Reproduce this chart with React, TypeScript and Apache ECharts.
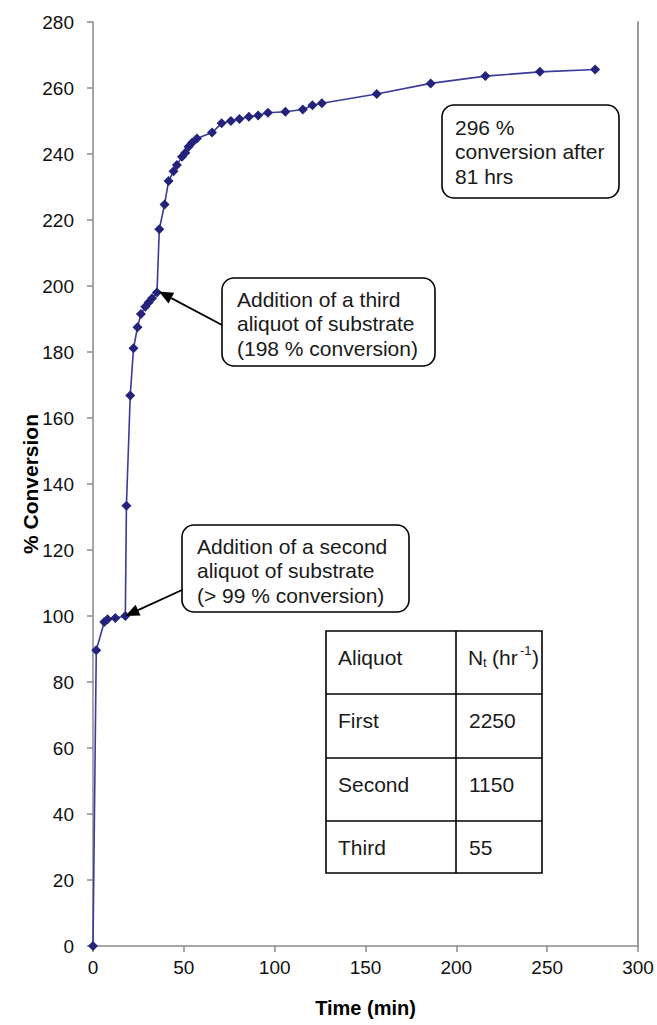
import React, { useEffect, useRef } from "react";
import * as echarts from "echarts";

// ---- data ----
const timeMin = [0, 1.8, 6.2, 8, 12.3, 17.8, 18.4, 20.5, 22.3, 24.5, 26.4, 28.8, 30.6, 32.5, 35.2, 36.5, 39.4, 41.6, 44.3, 46.2, 49, 50.8, 52.6, 54.5, 57.2, 65.5, 70.8, 75.9, 80.6, 85.8, 90.9, 96.3, 105.9, 115.5, 120.8, 126, 156.2, 185.9, 216, 246, 276.4];
const conversion = [0, 89.6, 98.2, 99, 99.4, 100, 133.4, 166.8, 181.1, 187.5, 191.5, 193.7, 195, 196.3, 198, 217.2, 224.7, 231.8, 234.8, 236.7, 239.2, 240.4, 242.2, 243.4, 244.7, 246.5, 249.3, 250, 250.6, 251.3, 251.7, 252.5, 252.8, 253.5, 254.8, 255.4, 258.2, 261.4, 263.6, 264.9, 265.6];

const xTickStep = 50;
const yTickStep = 20;
const xMax = 300;
const yMax = 280;

const aliquotNames = ["First", "Second", "Third"];
const turnoverValues = ["2250", "1150", "55"];
const tableHeaderFirst = "Aliquot";

const calloutThird = ["Addition of a third", "aliquot of substrate", "(198 % conversion)"];
const calloutSecond = ["Addition of a second", "aliquot of substrate", "(> 99 % conversion)"];
const calloutFinal = ["296 %", "conversion after", "81 hrs"];

// points the arrows point at
const thirdAdditionPoint = [35.2, 198];
const secondAdditionPoint = [17.8, 100];

const FONT = "'Liberation Sans', Arial, Helvetica, sans-serif";

function txt(text: string, x: number, y: number, size: number, opts: any = {}) {
  return {
    type: "text",
    z: 110,
    style: {
      text,
      x,
      y,
      fontSize: size,
      fontFamily: FONT,
      fontWeight: opts.weight || "normal",
      fill: opts.fill || "#1a1a1a",
      align: opts.align || "left",
      textAlign: opts.align || "left",
      verticalAlign: opts.va || "middle",
      textVerticalAlign: opts.va || "middle",
    },
  };
}

function arrow(from: number[], to: number[]) {
  const dx = to[0] - from[0];
  const dy = to[1] - from[1];
  const len = Math.sqrt(dx * dx + dy * dy);
  const ux = dx / len;
  const uy = dy / len;
  const headLen = 14;
  const headHalf = 6;
  const bx = to[0] - ux * headLen;
  const by = to[1] - uy * headLen;
  const nx = -uy;
  const ny = ux;
  return [
    {
      type: "line",
      z: 105,
      shape: { x1: from[0], y1: from[1], x2: bx, y2: by },
      style: { stroke: "#000", lineWidth: 1.8 },
    },
    {
      type: "polygon",
      z: 105,
      shape: {
        points: [
          [to[0], to[1]],
          [bx + nx * headHalf, by + ny * headHalf],
          [bx - nx * headHalf, by - ny * headHalf],
        ],
      },
      style: { fill: "#000" },
    },
  ];
}

function box(x: number, y: number, w: number, h: number) {
  return {
    type: "rect",
    z: 100,
    shape: { x, y, width: w, height: h, r: 12 },
    style: { fill: "#fff", stroke: "#000", lineWidth: 1.6 },
  };
}

export default function App() {
  const ref = useRef<HTMLDivElement>(null);

  useEffect(() => {
    if (!ref.current) return;
    const chart = echarts.init(ref.current, null, { renderer: "svg" });
    const data = timeMin.map((t, i) => [t, conversion[i]]);

    chart.setOption({
      animation: false,
      backgroundColor: "#fff",
      grid: { left: 93, top: 22, right: 19, bottom: 79, show: false },
      xAxis: {
        type: "value",
        min: 0,
        max: xMax,
        interval: xTickStep,
        name: "Time (min)",
        nameLocation: "middle",
        nameGap: 52,
        nameTextStyle: { fontFamily: FONT, fontWeight: "bold", fontSize: 20, color: "#000" },
        axisLine: { show: true, lineStyle: { color: "#8a8a8a", width: 1.5 } },
        axisTick: { show: true, length: 6, lineStyle: { color: "#8a8a8a", width: 1.5 } },
        axisLabel: { fontFamily: FONT, fontSize: 19, color: "#111", margin: 12 },
        splitLine: { show: false },
      },
      yAxis: [
        {
          type: "value",
          min: 0,
          max: yMax,
          interval: yTickStep,
          position: "left",
          name: "% Conversion",
          nameLocation: "middle",
          nameGap: 52,
          nameMoveOverlap: false,
          nameRotate: 90,
          nameTextStyle: { fontFamily: FONT, fontWeight: "bold", fontSize: 21, color: "#000" },
          axisLine: { show: true, lineStyle: { color: "#8a8a8a", width: 1.5 } },
          axisTick: { show: true, length: 6, lineStyle: { color: "#8a8a8a", width: 1.5 } },
          axisLabel: { fontFamily: FONT, fontSize: 19, color: "#111", margin: 19 },
          splitLine: { show: false },
        },
        {
          type: "value",
          min: 0,
          max: yMax,
          interval: yTickStep,
          position: "right",
          axisLine: { show: true, lineStyle: { color: "#9a9a9a", width: 2 } },
          axisTick: { show: false },
          axisLabel: { show: false },
          splitLine: { show: false },
        },
      ],
      series: [
        {
          type: "line",
          data,
          yAxisIndex: 0,
          symbol: "diamond",
          symbolSize: 10,
          showSymbol: true,
          lineStyle: { color: "#3a3a9c", width: 1.6 },
          itemStyle: { color: "#23237c" },
        },
      ],
    });

    const tip3 = chart.convertToPixel({ gridIndex: 0 }, thirdAdditionPoint) as number[];
    const tip2 = chart.convertToPixel({ gridIndex: 0 }, secondAdditionPoint) as number[];

    const elements: any[] = [];

    // callout: third aliquot
    elements.push(box(222, 278, 213, 88));
    calloutThird.forEach((l, i) => elements.push(txt(l, 237, 299 + i * 24.5, 21)));
    elements.push(...arrow([222, 325], [tip3[0] + 2, tip3[1] - 1]));

    // callout: second aliquot
    elements.push(box(182, 525, 227, 87));
    calloutSecond.forEach((l, i) => elements.push(txt(l, 197, 546 + i * 24.5, 21)));
    elements.push(...arrow([182, 590], [tip2[0], tip2[1]]));

    // callout: final
    elements.push(box(442, 105, 177, 93));
    calloutFinal.forEach((l, i) => elements.push(txt(l, 455, 127 + i * 24.5, 21)));

    // table
    const tx0 = 326, tx1 = 456, tx2 = 542;
    const rows = [631, 694, 758, 821, 873];
    elements.push({
      type: "rect",
      z: 100,
      shape: { x: tx0, y: rows[0], width: tx2 - tx0, height: rows[4] - rows[0] },
      style: { fill: "#fff", stroke: "#000", lineWidth: 1.6 },
    });
    elements.push({
      type: "line",
      z: 101,
      shape: { x1: tx1, y1: rows[0], x2: tx1, y2: rows[4] },
      style: { stroke: "#000", lineWidth: 1.6 },
    });
    for (let i = 1; i < 4; i++) {
      elements.push({
        type: "line",
        z: 101,
        shape: { x1: tx0, y1: rows[i], x2: tx2, y2: rows[i] },
        style: { stroke: "#000", lineWidth: 1.6 },
      });
    }
    elements.push(txt(tableHeaderFirst, 338, 657, 21));
    // N_t (hr^-1)
    elements.push(txt("N", 468, 657, 21));
    elements.push(txt("t", 483, 662, 13));
    elements.push(txt("(hr", 492, 657, 21));
    elements.push(txt("-1", 520, 650, 13));
    elements.push(txt(")", 532, 657, 21));
    aliquotNames.forEach((n, i) => {
      const cy = i === 0 ? 720 : i === 1 ? 784 : 847;
      elements.push(txt(n, 338, cy, 21));
      elements.push(txt(turnoverValues[i], 469, cy, 21));
    });

    chart.setOption({ graphic: { elements } });

    return () => chart.dispose();
  }, []);

  return (
    <div
      ref={ref}
      style={{ position: "fixed", left: 0, top: 0, width: 657, height: 1025, background: "#fff" }}
    />
  );
}
